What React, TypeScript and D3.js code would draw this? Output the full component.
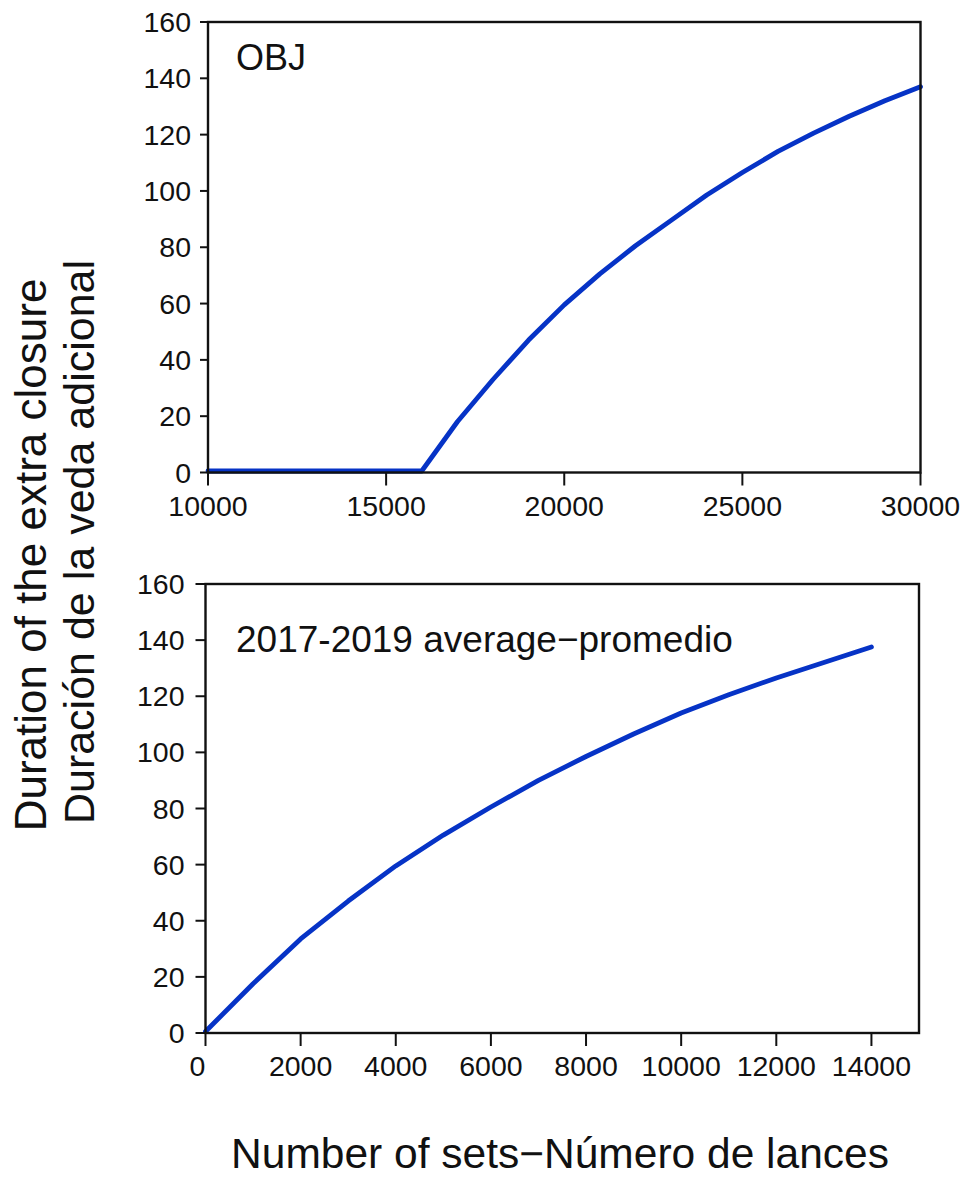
import React from "react";
import * as d3 from "d3";

// Top panel (OBJ)
const objSets = [10000, 11000, 12000, 13000, 14000, 15000, 16000, 17000, 18000, 19000, 20000, 21000, 22000, 23000, 24000, 25000, 26000, 27000, 28000, 29000, 30000];
const objDuration = [0, 0, 0, 0, 0, 0, 0, 17.5, 32.5, 46.5, 59, 70, 80, 89, 98, 106, 113.5, 120, 126, 131.5, 136.5];
const objXTicks = [10000, 15000, 20000, 25000, 30000];

// Bottom panel (2017-2019 average)
const avgSets = [0, 1000, 2000, 3000, 4000, 5000, 6000, 7000, 8000, 9000, 10000, 11000, 12000, 13000, 14000];
const avgDuration = [0, 17, 33, 46.5, 59, 70, 80, 89.5, 98, 106, 113.5, 120, 126, 131.5, 137];
const avgXTicks = [0, 2000, 4000, 6000, 8000, 10000, 12000, 14000];

const yTicks = [0, 20, 40, 60, 80, 100, 120, 140, 160];

const FONT = "'Liberation Sans', Arial, Helvetica, sans-serif";
const BLUE = "#0633c6";

type PanelProps = {
  left: number;
  right: number;
  top: number;
  bottom: number;
  xDomain: [number, number];
  xs: number[];
  ys: number[];
  xTicks: number[];
  label: string;
  labelX: number;
  labelY: number;
  labelSize: number;
  yTickLen: number;
  yLabelGap: number;
  zeroLabelShift: number;
};

function Panel(p: PanelProps) {
  const x = d3.scaleLinear().domain(p.xDomain).range([p.left, p.right]);
  const y = d3.scaleLinear().domain([0, 160]).range([p.bottom, p.top]);
  const pts = p.xs.map((v, i) => [v, p.ys[i]] as [number, number]);
  const line = d3
    .line<[number, number]>()
    .x((d) => x(d[0]))
    .y((d) => y(d[1]) - 1.5)
    .curve(d3.curveLinear);
  return (
    <g>
      <path
        d={line(pts) || ""}
        fill="none"
        stroke={BLUE}
        strokeWidth={4.8}
        strokeLinecap="round"
        strokeLinejoin="round"
      />
      <rect
        x={p.left}
        y={p.top}
        width={p.right - p.left}
        height={p.bottom - p.top}
        fill="none"
        stroke="#111"
        strokeWidth={2.4}
      />
      {yTicks.map((t) => (
        <g key={"y" + t}>
          <line x1={p.left - p.yTickLen} x2={p.left} y1={y(t)} y2={y(t)} stroke="#111" strokeWidth={2} />
          <text
            x={p.left - p.yTickLen - p.yLabelGap}
            y={y(t)}
            textAnchor="end"
            dominantBaseline="central"
            fontSize={28.5}
            fontFamily={FONT}
            fill="#111"
          >
            {t}
          </text>
        </g>
      ))}
      {p.xTicks.map((t) => (
        <g key={"x" + t}>
          <line x1={x(t)} x2={x(t)} y1={p.bottom} y2={p.bottom + 13} stroke="#111" strokeWidth={2} />
          <text
            x={x(t) + (t === 0 ? p.zeroLabelShift : 0)}
            y={p.bottom + 43}
            textAnchor="middle"
            fontSize={28.5}
            fontFamily={FONT}
            fill="#111"
          >
            {t}
          </text>
        </g>
      ))}
      <text x={p.labelX} y={p.labelY} fontSize={p.labelSize} fontFamily={FONT} fill="#111">
        {p.label}
      </text>
    </g>
  );
}

export default function App() {
  return (
    <svg
      width={964}
      height={1177}
      viewBox="0 0 964 1177"
      style={{ position: "absolute", left: 0, top: 0, background: "#fff" }}
    >
      <rect x={0} y={0} width={964} height={1177} fill="#fff" />
      <Panel
        left={208}
        right={920.5}
        top={22}
        bottom={472.5}
        xDomain={[10000, 30000]}
        xs={objSets}
        ys={objDuration}
        xTicks={objXTicks}
        label="OBJ"
        labelX={236}
        labelY={70}
        labelSize={36}
        yTickLen={8}
        yLabelGap={9}
        zeroLabelShift={0}
      />
      <Panel
        left={205.5}
        right={919}
        top={584}
        bottom={1033}
        xDomain={[0, 15000]}
        xs={avgSets}
        ys={avgDuration}
        xTicks={avgXTicks}
        label="2017-2019 average−promedio"
        labelX={236}
        labelY={652}
        labelSize={37}
        yTickLen={10}
        yLabelGap={11}
        zeroLabelShift={-8}
      />
      <text
        transform="translate(46,555) rotate(-90)"
        textAnchor="middle"
        fontSize={44}
        fontFamily={FONT}
        fill="#111"
      >
        Duration of the extra closure
      </text>
      <text
        transform="translate(94,542) rotate(-90)"
        textAnchor="middle"
        fontSize={43}
        fontFamily={FONT}
        fill="#111"
      >
        Duración de la veda adicional
      </text>
      <text x={560} y={1168} textAnchor="middle" fontSize={42.5} fontFamily={FONT} fill="#111">
        Number of sets−Número de lances
      </text>
    </svg>
  );
}
